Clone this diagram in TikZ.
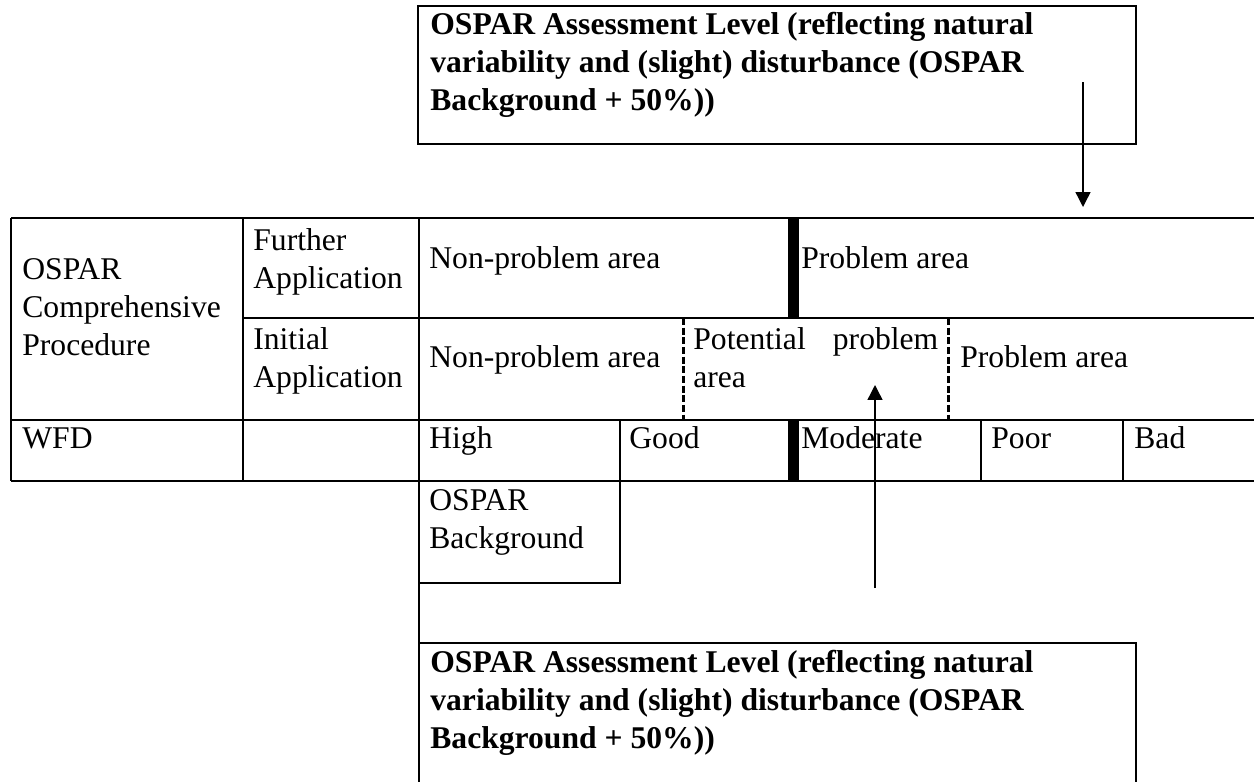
\documentclass[tikz,border=0pt]{standalone}
\usepackage{fontspec}
\setmainfont{Liberation Serif}
\usetikzlibrary{arrows.meta}

\begin{document}
\begin{tikzpicture}[
		x=0.02cm, y=-0.02cm,
		every node/.style={inner sep=0pt, anchor=base west, align=left, font=\fontsize{18}{21.6}\selectfont},
		heading/.style={font=\fontsize{18}{21.4}\selectfont\bfseries},
		grid/.style={line width=0.9pt},
		strong/.style={line width=6.2pt},
		dashline/.style={line width=1.7pt, dash pattern=on 4pt off 1.5pt},
		arrow/.style={-{Triangle[length=8.5pt, width=8.5pt]}, line width=0.8pt},
	]
	\useasboundingbox (0,0) rectangle (1254,781);

	% assessment level boxes (base = last line)
	\draw[grid] (418,6) rectangle (1136,144);
	\node[heading] (lvltop) at (430,110) {OSPAR Assessment Level (reflecting natural\\variability and (slight) disturbance (OSPAR\\Background + 50\%))};
	\draw[grid] (419,643) -- (1136,643) -- (1136,800);
	\node[heading] (lvlbot) at (430,748) {OSPAR Assessment Level (reflecting natural\\variability and (slight) disturbance (OSPAR\\Background + 50\%))};

	% table grid
	\draw[grid] (11,218) -- (1270,218);
	\draw[grid] (243,318) -- (1270,318);
	\draw[grid] (11,420) -- (1270,420);
	\draw[grid] (11,481) -- (1270,481);
	\draw[grid] (11,218) -- (11,481);
	\draw[grid] (243,218) -- (243,481);
	\draw[grid] (419,218) -- (419,800);
	\draw[grid] (981,420) -- (981,481);
	\draw[grid] (1123,420) -- (1123,481);
	\draw[grid] (620,420) -- (620,583) -- (419,583);
	\draw[strong] (793.5,218) -- (793.5,318);
	\draw[strong] (793.5,420) -- (793.5,481);
	\draw[dashline] (683,318) -- (683,420);
	\draw[dashline] (948,318) -- (948,420);

	% cell texts
	\node (ocp) at (22,355) {OSPAR\\Comprehensive\\Procedure};
	\node (further) at (253,288) {Further\\Application};
	\node (initial) at (253,387) {Initial\\Application};
	\node (wfd) at (22,448) {WFD};
	\node (np1) at (429,268) {Non-problem area};
	\node (pa1) at (801,268) {Problem area};
	\node (np2) at (429,367) {Non-problem area};
	\node (ppa) at (693,387) {\makebox[4.9cm][s]{Potential problem}\\area};
	\node (pa2) at (960,367) {Problem area};
	\node (high) at (429,448) {High};
	\node (good) at (629,448) {Good};
	\node (moderate) at (801,448) {Moderate};
	\node (poor) at (991,448) {Poor};
	\node (bad) at (1134,448) {Bad};
	\node (bg) at (429,548) {OSPAR\\Background};

	% arrows
	\coordinate (topfrom) at (1083,82);
	\coordinate (topto) at (1083,207);
	\coordinate (botfrom) at (875,588);
	\coordinate (botto) at (875,385);
	\draw[arrow] (topfrom) -- (topto);
	\draw[arrow] (botfrom) -- (botto);
\end{tikzpicture}
\end{document}
